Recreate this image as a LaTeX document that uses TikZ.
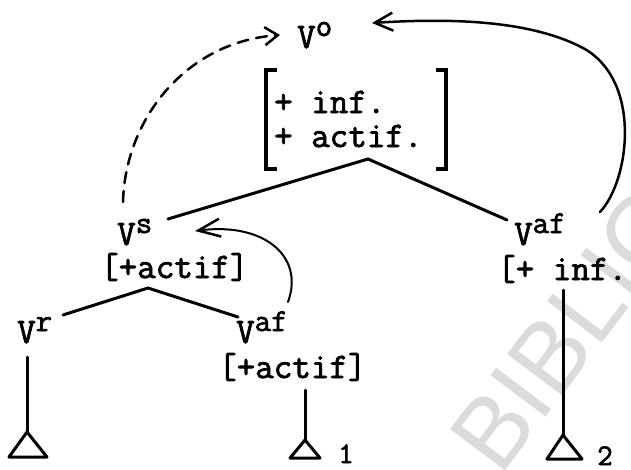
\documentclass[tikz,border=0pt]{standalone}
\usepackage{fontspec}
\newfontfamily\wmfont{Liberation Sans}
\newfontfamily\tw{lmmono12-regular.otf}[RawFeature={embolden=2}]
\usetikzlibrary{arrows.meta}
% raised, slightly smaller feature letter after a category symbol
\newcommand\hi[1]{\raisebox{12pt}{\fontsize{32}{32}\selectfont #1}}
\begin{document}
\begin{tikzpicture}[x=1pt,y=-1pt,
  lbl/.style={inner sep=0pt, anchor=base west, font=\tw\fontsize{36}{40}\selectfont},
  idx/.style={inner sep=0pt, anchor=base, font=\tw\fontsize{30}{32}\selectfont},
  branch/.style={line width=3pt, line cap=round},
  tri/.style={line width=3pt, line join=round, line cap=round},
  brk/.style={line width=3.2pt, line join=miter},
  move/.style={line width=2.5pt, line cap=round},
  barb/.style={-{Straight Barb[length=#1, width=18pt, line width=2.5pt]}},
  stamp/.style={inner sep=0pt, anchor=base west, rotate=53, text=black!14,
    font=\wmfont\fontsize{100}{100}\selectfont}]
\useasboundingbox (0,0) rectangle (631,469);
\begin{scope}
\clip (0,0) rectangle (631,469);

% library stamp behind the tree
\node[stamp] (wm) at (500,478) {BIBLIO};

% category labels
\node[lbl] (vo)   at (297,48)  {V\hi{o}};
\node[lbl] (f1)   at (274,113) {+ inf.};
\node[lbl] (f2)   at (274,147) {+ actif.};
\node[lbl] (vs)   at (117,245) {V\hi{s}};
\node[lbl] (fs)   at (100,278) {[+actif]};
\node[lbl] (vr)   at (17,343)  {V\hi{r}};
\node[lbl] (va)   at (236,343) {V\hi{af}};
\node[lbl] (fa)   at (218,378) {[+actif]};
\node[lbl] (vb)   at (514,245) {V\hi{af}};
\node[lbl] (fb)   at (497,280) {[+ inf.};
\node[idx] (n1)   at (346,463) {1};
\node[idx] (n2)   at (605,465) {2};

% feature matrix brackets
\draw[brk] (277,70) -- (266,70) -- (266,169) -- (277,169);
\draw[brk] (436,70) -- (446,70) -- (446,169) -- (436,169);

% branches
\coordinate (top)  at (368,159);
\coordinate (topL) at (168,219);
\coordinate (topR) at (507,220);
\coordinate (mid)  at (148,288);
\coordinate (midL) at (63,315);
\coordinate (midR) at (238,317);
\draw[branch] (topL) -- (top) -- (topR);
\draw[branch] (midL) -- (mid) -- (midR);

% stems ending in triangles
\coordinate (sr) at (27,357);  \coordinate (tr) at (27,432);
\coordinate (sa) at (305,390); \coordinate (ta) at (305,440);
\coordinate (sb) at (563,290); \coordinate (tb) at (563,435);
\draw[branch] (sr) -- (tr);
\draw[branch] (sa) -- (ta);
\draw[branch] (sb) -- (tb);
\draw[tri] (tr) -- (9,457) -- (47,457) -- cycle;
\draw[tri] (ta) -- (290,458) -- (320,458) -- cycle;
\draw[tri] (tb) -- (547,459) -- (582,459) -- cycle;

% movement arrows
\coordinate (m1s) at (123,202); \coordinate (m1e) at (280,35);
\coordinate (m2s) at (600,212); \coordinate (m2e) at (372,23);
\coordinate (m3s) at (288,302); \coordinate (m3e) at (195,231);
\draw[move, dash pattern=on 11pt off 8pt, barb=13pt]
  (m1s) .. controls (125,120) and (185,42) .. (m1e);
\draw[move, barb=18pt]
  (m2s) .. controls (630,180) and (642,80) .. (583,48)
        .. controls (530,20) and (450,18) .. (m2e);
\draw[move, line width=2pt, barb=22pt]
  (m3s) .. controls (305,255) and (262,222) .. (m3e);
\end{scope}
\end{tikzpicture}
\end{document}
